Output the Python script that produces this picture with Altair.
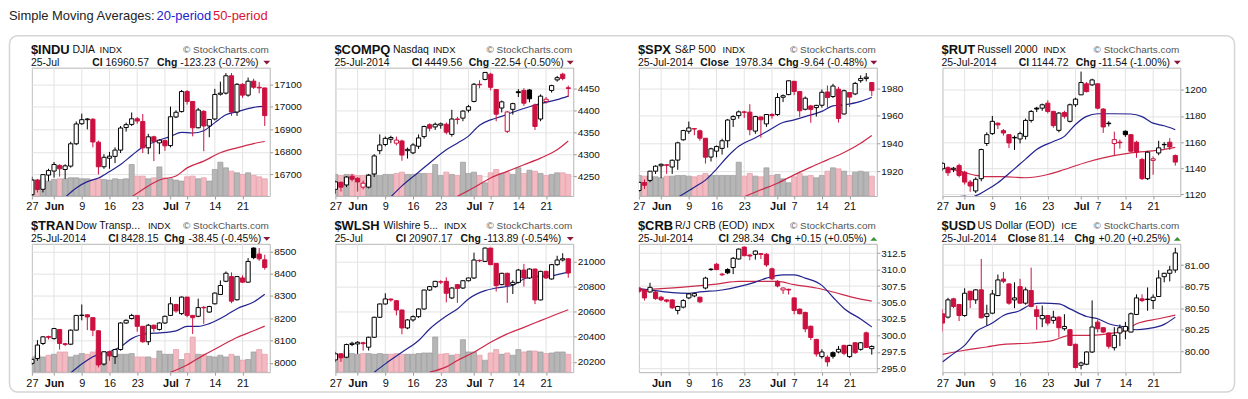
import altair as alt
import pandas as pd

FONT = "Liberation Sans, Arial, Helvetica, sans-serif"

# ---------------- shared axis data (trading-day index: 0 = 27 May 2014, 42 = 25 Jul 2014)
TICK_DAYS = [0, 4, 9, 14, 19, 25, 28, 33, 38]
TICK_TEXT = ["27", "Jun", "9", "16", "23", "Jul", "7", "14", "21"]
MONTH_DAYS = [4, 25]
GRID_DAYS = [0, 4, 9, 14, 19, 24, 28, 33, 38]

# ---------------- $INDU
INDU_OPEN = [16610,16675,16634,16697,16715,16740,16722,16737,16836,16925,16943,16945,16843,16734,16772,16780,16808,16908,16922,16947,16935,16818,16867,16840,16850,16828,16955,16979,17068,17024,16907,16980,16915,16946,17056,17061,17138,16977,17100,17052,17114,17087,17084]
INDU_HIGH = [16690,16680,16700,16725,16755,16745,16745,16845,16935,16970,16950,16950,16850,16790,16800,16820,16915,16930,16975,16955,16968,16880,16872,16855,16855,17001,16985,17075,17075,17025,16995,16985,16945,17080,17112,17150,17150,17105,17105,17130,17125,17110,17085]
INDU_LOW = [16600,16620,16620,16670,16686,16690,16680,16730,16830,16920,16900,16820,16700,16725,16725,16750,16795,16890,16915,16925,16795,16790,16759,16790,16805,16820,16950,16975,17010,16869,16905,16803,16865,16940,17050,17055,16960,16960,17040,17045,17080,17060,16915]
INDU_CLOSE = [16675,16633,16699,16717,16744,16725,16738,16836,16924,16943,16946,16844,16734,16776,16781,16808,16906,16921,16947,16937,16818,16867,16846,16852,16827,16956,16976,17068,17024,16907,16986,16915,16944,17055,17061,17138,16977,17100,17052,17114,17087,17084,16961]
INDU_VOLUME = [16.7,16.0,17.3,15.0,16.7,17.3,17.3,18.3,18.3,17.3,17.3,16.7,17.3,16.7,16.0,17.3,16.7,17.3,31.7,20.0,20.0,17.3,18.3,29.3,18.3,17.3,16.0,15.0,19.3,20.0,17.3,18.3,15.0,26.7,34.0,28.3,25.0,23.3,21.7,23.3,20.7,19.3,17.3]
INDU_SMA20_DAY = [6,8,10,12,14,16,18,20,22,25,27,29,31,33,35,37,40,42]
INDU_SMA20 = [16598,16640,16668,16684,16713,16744,16784,16822,16843,16869,16887,16884,16894,16930,16965,16978,16998,17002]
INDU_SMA50_DAY = [18,21,23,26,28,31,34,37,40,42]
INDU_SMA50 = [16600,16649,16675,16693,16729,16759,16796,16818,16837,16846]

# ---------------- $COMPQ
COMPQ_OPEN = [4220,4236,4230,4250,4245,4225,4225,4255,4308,4322,4334,4325,4330,4308,4303,4318,4340,4367,4362,4366,4368,4345,4380,4382,4400,4420,4459,4470,4482,4447,4405,4352,4402,4442,4445,4446,4412,4380,4420,4445,4469,4482,4451]
COMPQ_HIGH = [4240,4238,4250,4255,4248,4240,4255,4300,4345,4340,4342,4340,4333,4315,4325,4345,4365,4370,4372,4372,4372,4401,4385,4400,4412,4462,4468,4487,4485,4448,4422,4398,4417,4448,4450,4448,4415,4436,4430,4458,4478,4485,4456]
COMPQ_LOW = [4210,4215,4225,4238,4215,4220,4222,4248,4300,4318,4325,4320,4285,4290,4300,4312,4335,4352,4355,4358,4345,4340,4368,4375,4395,4418,4450,4468,4445,4375,4395,4348,4390,4430,4410,4418,4355,4375,4415,4440,4465,4468,4430]
COMPQ_CLOSE = [4237,4225,4248,4243,4237,4234,4252,4296,4321,4336,4338,4332,4298,4311,4321,4337,4363,4359,4368,4369,4350,4380,4379,4398,4408,4459,4457.7,4486,4452,4391,4419,4396,4415,4440,4416,4426,4363,4432,4425,4456,4474,4472,4449.6]
COMPQ_VOLUME = [21.7,20.7,21.7,21.7,20.7,20.7,21.7,21.7,20.7,21.7,21.7,22.7,24.0,21.7,21.7,22.7,22.7,22.7,31.7,20.7,24.0,21.7,20.7,34.0,22.7,24.0,20.7,13.3,23.3,26.7,22.7,24.0,21.7,28.3,22.7,26.0,25.0,22.7,20.7,21.7,23.3,23.3,21.7]
COMPQ_SMA20_DAY = [10,12,15,17,20,22,24,26,28,30,33,35,37,40,42]
COMPQ_SMA20 = [4203,4228,4259,4280,4310,4325,4341,4366,4378,4386,4400,4408,4415,4424,4432]
COMPQ_SMA50_DAY = [22,25,28,31,34,37,40,42]
COMPQ_SMA50 = [4204,4224,4246,4261,4276,4291,4310,4330]

# ---------------- $SPX
SPX_OPEN = [1906,1911.8,1913.3,1920,1923.9,1924.6,1923,1928,1942.7,1948.9,1950.5,1949.2,1943.8,1930.2,1934.5,1936.5,1942,1957.5,1960.2,1962.9,1962.7,1949,1959.2,1954.2,1961,1961,1973.5,1975.4,1985,1977.6,1964.8,1967.2,1966,1967.7,1977.3,1974,1979.3,1961.4,1976.9,1975.9,1985.5,1987,1984.1]
SPX_HIGH = [1912.3,1914,1920.2,1924.2,1925.5,1925,1928.4,1941.3,1949.9,1955.9,1950.9,1950,1944,1937,1938.6,1943.5,1957.8,1960.5,1963.9,1963.7,1968.5,1960,1959.5,1961,1962,1976.5,1975.5,1985.6,1985.3,1978,1974,1968,1968,1979.1,1982,1983.2,1981,1979,1977,1984.6,1989.3,1991,1984.5]
SPX_LOW = [1905,1907,1912,1918,1915,1918,1918,1921,1942,1947,1946,1942,1925.5,1927,1930,1932,1937,1952,1958,1958.5,1946,1947,1944.2,1952,1958,1960,1970,1975,1975,1959.3,1964,1955,1959.5,1966,1965.9,1973,1955.2,1961,1966.5,1975,1984,1985,1974.5]
SPX_CLOSE = [1911.9,1909.8,1920.0,1923.6,1925.0,1924.2,1927.9,1940.5,1949.4,1951.3,1950.8,1943.9,1930.1,1936.2,1937.8,1942.0,1957.0,1959.5,1962.9,1962.6,1950.0,1959.5,1957.2,1961.0,1960.2,1973.3,1974.6,1985.4,1977.7,1963.7,1972.8,1964.7,1967.6,1977.1,1973.3,1981.6,1958.1,1978.2,1973.6,1983.5,1987.0,1988.0,1978.3]
SPX_VOLUME = [20.7,20,20,19.3,18.3,20,20,20.7,20.7,20,19.3,20.7,22.7,20.7,20.7,20.7,20.7,20.7,34,20,22.7,20,19.3,28.3,20.7,21.7,17.3,13.3,19.3,22.7,20,20.7,18.3,20.7,25,28.3,27.3,25,20.7,24,25,24,20]
SPX_SMA20_DAY = [7,10,12,14,16,18,21,23,26,28,30,33,35,37,40,42]
SPX_SMA20 = [1901,1908.4,1913.5,1921.5,1930.6,1938,1944.2,1948.5,1955.2,1957.1,1959.5,1963.3,1967.2,1968,1970.5,1973.5]
SPX_SMA50_DAY = [19,22,25,28,31,34,37,40,42]
SPX_SMA50 = [1901.5,1906.5,1911.3,1917.3,1922.9,1928.2,1933.5,1940.2,1945.8]

# ---------------- $RUT
RUT_OPEN = [1139.6,1140.4,1139.2,1142,1137,1129.4,1122.6,1132,1158.9,1166.5,1174.5,1168.8,1165.7,1163.6,1162.4,1164.4,1176.6,1186,1186,1189.8,1183.5,1169,1182.7,1175.9,1188.6,1196.2,1204.6,1203.8,1204.6,1185.3,1174.5,1158.9,1160,1168.3,1165.7,1159.9,1146.7,1132,1146,1151.7,1158,1159.9,1149.7]
RUT_HIGH = [1144.7,1141.5,1141,1143.5,1138,1131,1133,1155,1167.5,1180,1175,1170,1166,1165,1168,1178,1184.5,1187,1189.5,1192,1184,1183,1184,1189.5,1194,1214,1206,1208.5,1205,1186,1176,1168,1162,1169,1166,1161,1148,1153,1149,1161,1160,1163,1150.5]
RUT_LOW = [1138,1134,1137,1133,1127.5,1122,1121,1130,1157,1165.5,1170,1165,1155.5,1154,1159,1162,1175,1183,1184,1182,1171,1167.5,1178,1175,1187,1196,1198,1203,1185,1167,1172,1150,1155,1164,1152,1148,1131,1131,1135,1150,1155,1154,1142]
RUT_CLOSE = [1143.7,1136.5,1140,1134.5,1129.4,1126.4,1131.5,1154.3,1165.7,1175.9,1173.2,1167,1159.4,1163.2,1166.5,1176.6,1183.5,1185.3,1188.6,1183.5,1172.6,1182.2,1179.7,1188.6,1192.9,1205.6,1198.7,1207.6,1186,1171.6,1174.1,1161.9,1159.5,1165.7,1153,1152.3,1132,1152.3,1147.2,1155.6,1158.2,1156.3,1144.7]
RUT_SMA20_DAY = [0,2,4,5,8,10,12,15,17,20,22,24,26,28,31,34,36,38,40,42]
RUT_SMA20 = [1116,1117.5,1118.7,1117.8,1123.5,1128.9,1136,1147,1154.3,1160.5,1164.4,1173.5,1179.7,1181.7,1181.7,1181.5,1179.5,1174.5,1172.5,1169.5]
RUT_SMA50_DAY = [0,3,6,8,11,15,19,22,26,29,34,39,42]
RUT_SMA50 = [1140.3,1137.8,1134.5,1133.5,1133.5,1132.7,1135.2,1139,1144.6,1147.9,1151.7,1153.8,1156]

# ---------------- $TRAN
TRAN_OPEN = [7998,8020,8087,8118,8109,8150,8086,8084,8147,8213,8216,8203,8144,7995,8050,8028,8060,8179,8199,8213,8164,8095,8169,8150,8179,8213,8262,8221,8295,8213,8209,8249,8228,8265,8307,8366,8387,8283,8381,8362,8515,8488,8462]
TRAN_HIGH = [8020,8102,8120,8122,8157,8152,8090,8150,8215,8262,8218,8205,8146,8052,8055,8062,8182,8195,8220,8214,8166,8175,8172,8182,8212,8295,8265,8298,8296,8215,8288,8255,8256,8316,8370,8410,8406,8390,8393,8470,8518,8515,8485]
TRAN_LOW = [7990,8010,8080,8105,8105,8060,8075,8080,8145,8191,8147,8120,7980,7988,8010,7995,8055,8175,8195,8140,8090,8080,8140,8145,8175,8210,8225,8215,8205,8130,8205,8175,8225,8262,8305,8362,8268,8280,8358,8360,8465,8458,8418]
TRAN_CLOSE = [8016,8080,8117,8115,8154,8087,8083,8147,8213,8214,8206,8147,7991,8050,8031,8060,8179,8191,8213,8164,8095,8169,8154,8179,8209,8265,8233,8295,8213,8203,8248,8247,8253,8313,8347,8402,8277,8387,8362,8455,8472,8466.6,8428.2]
TRAN_VOLUME = [15.3,17,15.3,17,18,20.3,20.3,15.3,17,18.7,18,20.3,22.7,20.3,18,17,18,18,18.7,15.3,15.3,15.3,13.7,21.3,18,18,22.7,12.7,18.7,35.3,18,18,16,15.3,17,15.3,18,16,12,12.7,20.3,22.7,18]
TRAN_SMA20_DAY = [7,9,11,14,16,18,21,23,26,28,30,32,35,37,40,42]
TRAN_SMA20 = [7955,7995,8028,8050,8072,8109,8132,8135,8144,8164,8164,8176,8213,8243,8273,8308]
TRAN_SMA50_DAY = [25,28,31,34,37,40,42]
TRAN_SMA50 = [7958,7991,8035,8075,8114,8144,8165]

# ---------------- $WLSH
WLSH_OPEN = [20216,20264,20237,20338,20343,20352,20317,20396,20555,20661,20700,20687,20613,20470,20534,20560,20621,20772,20799,20838,20841,20709,20815,20788,20846,20868,21008,21000,21106,20984,20815,20905,20815,20833,20931,20868,20939,20693,20921,20860,20974,21011,21021]
WLSH_HIGH = [20280,20268,20345,20360,20365,20360,20400,20560,20665,20746,20705,20690,20615,20540,20570,20625,20775,20805,20845,20850,20873,20795,20820,20850,20870,21070,21015,21110,21108,20986,20910,20910,20850,20940,20980,20945,20942,20925,20925,20980,21045,21065,21025]
WLSH_LOW = [20200,20200,20230,20325,20264,20290,20290,20390,20550,20655,20680,20570,20420,20460,20520,20550,20615,20765,20790,20820,20674,20700,20670,20780,20840,20860,20995,20995,20970,20760,20810,20670,20740,20825,20800,20860,20660,20690,20860,20855,20965,21000,20870]
WLSH_CLOSE = [20264,20232,20338,20348,20356,20345,20396,20555,20661,20701,20693,20613,20470,20534,20560,20621,20772,20799,20841,20835,20746,20788,20785,20846,20868,21011,21005,21106,20974,20807,20905,20807,20833,20931,20868,20939,20693,20921,20868,20974,21011,21021,20907.2]
WLSH_VOLUME = [18.7,17,22,18.7,18,18.7,18.7,18,18.7,18,18,18.7,18,18,18,18.7,19.3,19.3,35.3,18,18.7,17,18,32.7,20.3,20.3,17,12,19.3,22.7,18,19.3,17,22.7,20.3,21.3,21.3,20.3,18.7,19.3,20.3,20.3,18]
WLSH_SMA20_DAY = [7,9,12,15,17,20,22,24,27,29,32,34,36,39,41,42]
WLSH_SMA20 = [20118,20184,20277,20370,20462,20565,20621,20701,20767,20788,20810,20860,20878,20886,20905,20913]
WLSH_SMA50_DAY = [17,20,22,25,28,31,34,37,40,42]
WLSH_SMA50 = [20118,20160,20211,20277,20356,20423,20475,20528,20581,20615]

# ---------------- $CRB
CRB_OPEN = [307.2,306.9,306.6,306.6,305.8,305.4,305.4,303.8,304.3,305.7,306.0,305.8,307.2,310.0,310.8,309.3,310.0,310.3,311.6,313.4,312.2,312.3,312.4,312.3,310.1,308.2,306.9,307.0,305.7,304.0,303.5,301.4,299.4,296.8,296.7,297.4,297.5,298.5,296.8,298.9,297.9,300.4,298.0]
CRB_HIGH = [307.4,307.0,308.0,306.8,306.0,305.5,305.5,304.5,305.5,306.4,306.5,305.9,308.9,310.2,311.0,309.5,310.2,311.9,313.2,313.5,312.3,312.9,312.5,312.5,310.3,308.4,307.3,307.1,305.8,304.1,303.6,301.5,299.5,297.9,297.0,297.6,298.4,298.6,298.6,299.0,299.0,300.6,298.5]
CRB_LOW = [306.4,305.3,306.5,305.4,305.2,305.0,304.0,303.2,304.1,305.5,305.8,304.9,307.0,309.8,309.9,309.0,309.3,309.3,311.5,312.0,311.4,311.5,311.6,310.4,308.4,307.3,306.3,306.2,303.2,303.2,300.5,299.3,296.8,296.5,295.3,296.5,297.3,297.0,296.6,297.2,297.7,298.1,297.1]
CRB_CLOSE = [306.7,305.7,307.3,305.6,305.4,305.2,304.2,304.4,305.3,306.3,306.35,305.1,308.7,310.05,310.0,309.2,309.5,311.7,313.1,312.1,312.05,312.8,312.3,310.7,308.6,307.5,307.2,306.9,303.8,303.3,301.0,299.7,297.2,297.5,296.0,296.85,297.9,297.3,298.5,297.4,298.9,298.19,298.34]
CRB_SMA20_DAY = [0,3,6,9,11,15,18,21,23,26,28,30,33,35,37,40,42]
CRB_SMA20 = [307.1,306.8,306.5,306.4,306.6,306.9,307.4,308.1,308.7,309.2,309.2,308.7,307.6,305.8,304.1,302.5,301.3]
CRB_SMA50_DAY = [0,4,9,14,18,22,25,28,32,35,39,42]
CRB_SMA50 = [306.9,307.1,307.4,307.8,308.2,308.2,308.2,307.7,307.2,306.6,305.7,305.2]

# ---------------- $USD
USD_OPEN = [80.435,80.396,80.608,80.542,80.415,80.696,80.596,80.712,80.404,80.442,80.646,80.838,80.781,80.596,80.75,80.558,80.704,80.481,80.377,80.415,80.358,80.396,80.262,80.25,80.081,79.838,79.85,79.992,80.338,80.273,80.212,80.042,80.212,80.235,80.223,80.427,80.608,80.60,80.588,80.635,80.865,80.904,80.942]
USD_HIGH = [80.49,80.62,80.62,80.55,80.73,80.70,80.72,81.07,80.54,80.71,80.89,80.92,80.79,80.80,80.84,80.74,80.97,80.53,80.53,80.42,80.47,80.41,80.43,80.26,80.09,79.88,80.00,80.59,80.37,80.28,80.22,80.28,80.31,80.34,80.45,80.66,80.66,80.74,80.66,80.94,80.91,80.99,81.20]
USD_LOW = [80.23,80.38,80.50,80.35,80.40,80.50,80.55,80.38,80.30,80.43,80.64,80.79,80.54,80.50,80.55,80.54,80.51,80.25,80.28,80.30,80.32,80.16,80.24,80.06,79.80,79.79,79.84,79.98,80.22,80.21,80.03,80.01,80.06,80.14,80.22,80.42,80.57,80.47,80.49,80.63,80.80,80.81,80.91]
USD_CLOSE = [80.327,80.596,80.519,80.415,80.673,80.596,80.712,80.388,80.435,80.665,80.827,80.812,80.558,80.619,80.558,80.712,80.519,80.404,80.415,80.327,80.396,80.273,80.288,80.069,79.812,79.865,79.992,80.281,80.262,80.223,80.058,80.185,80.273,80.288,80.435,80.619,80.588,80.605,80.627,80.85,80.904,80.942,81.14]
USD_SMA20_DAY = [0,2,4,6,9,11,14,16,18,21,23,26,28,30,33,35,37,40,42]
USD_SMA20 = [79.877,79.973,80.069,80.223,80.327,80.415,80.473,80.542,80.558,80.55,80.492,80.404,80.377,80.319,80.281,80.25,80.262,80.312,80.396]
USD_SMA50_DAY = [0,4,8,11,16,20,23,27,30,33,35,39,42]
USD_SMA50 = [79.965,80.012,80.05,80.081,80.096,80.127,80.185,80.185,80.204,80.242,80.319,80.377,80.42]

# ---------------- panel descriptions
PANELS = [
    dict(o=INDU_OPEN, h=INDU_HIGH, l=INDU_LOW, c=INDU_CLOSE, v=INDU_VOLUME,
         s20d=INDU_SMA20_DAY, s20=INDU_SMA20, s50d=INDU_SMA50_DAY, s50=INDU_SMA50,
         domain=[16604, 17174], ticks=[16700, 16800, 16900, 17000, 17100], fmt="d", first=True,
         sym="$INDU", name="DJIA", name_x=40.7, exch="INDX", exch_x=68, date="25-Jul",
         clbl="Cl", clbl_x=60.7, cval="16960.57", cval_x=74, chg_x=125.7, chg="-123.23 (-0.72%)", chgv_x=149, up=False),
    dict(o=COMPQ_OPEN, h=COMPQ_HIGH, l=COMPQ_LOW, c=COMPQ_CLOSE, v=COMPQ_VOLUME,
         s20d=COMPQ_SMA20_DAY, s20=COMPQ_SMA20, s50d=COMPQ_SMA50_DAY, s50=COMPQ_SMA50,
         domain=[4204.8, 4496.8], ticks=[4250, 4300, 4350, 4400, 4450], fmt="d", first=True,
         sym="$COMPQ", name="Nasdaq", name_x=57.8, exch="INDX", exch_x=98, date="25-Jul-2014",
         clbl="Cl", clbl_x=76.7, cval="4449.56", cval_x=89.5, chg_x=134, chg="-22.54 (-0.50%)", chgv_x=156.5, up=False),
    dict(o=SPX_OPEN, h=SPX_HIGH, l=SPX_LOW, c=SPX_CLOSE, v=SPX_VOLUME,
         s20d=SPX_SMA20_DAY, s20=SPX_SMA20, s50d=SPX_SMA50_DAY, s50=SPX_SMA50,
         domain=[1902, 1994.9], ticks=[1920, 1940, 1960, 1980], fmt="d", first=True,
         sym="$SPX", name="S&P 500", name_x=36, exch="INDX", exch_x=84, date="25-Jul-2014",
         clbl="Close", clbl_x=61.7, cval="1978.34", cval_x=96.5, chg_x=140.1, chg="-9.64 (-0.48%)", chgv_x=162.4, up=False),
    dict(o=RUT_OPEN, h=RUT_HIGH, l=RUT_LOW, c=RUT_CLOSE, v=None,
         s20d=RUT_SMA20_DAY, s20=RUT_SMA20, s50d=RUT_SMA50_DAY, s50=RUT_SMA50,
         domain=[1118.7, 1217], ticks=[1120, 1140, 1160, 1180, 1200], fmt="d", first=True,
         sym="$RUT", name="Russell 2000", name_x=35, exch="INDX", exch_x=101.2, date="25-Jul-2014",
         clbl="Cl", clbl_x=76.7, cval="1144.72", cval_x=89.5, chg_x=134, chg="-11.54 (-1.00%)", chgv_x=156.5, up=False),
    dict(o=TRAN_OPEN, h=TRAN_HIGH, l=TRAN_LOW, c=TRAN_CLOSE, v=TRAN_VOLUME,
         s20d=TRAN_SMA20_DAY, s20=TRAN_SMA20, s50d=TRAN_SMA50_DAY, s50=TRAN_SMA50,
         domain=[7958.5, 8534], ticks=[8000, 8100, 8200, 8300, 8400, 8500], fmt="d", first=True,
         sym="$TRAN", name="Dow Transp...", name_x=44, exch="INDX", exch_x=116.6, date="25-Jul-2014",
         clbl="Cl", clbl_x=76.7, cval="8428.15", cval_x=89.5, chg_x=133, chg="-38.45 (-0.45%)", chgv_x=157.5, up=False),
    dict(o=WLSH_OPEN, h=WLSH_HIGH, l=WLSH_LOW, c=WLSH_CLOSE, v=WLSH_VOLUME,
         s20d=WLSH_SMA20_DAY, s20=WLSH_SMA20, s50d=WLSH_SMA50_DAY, s50=WLSH_SMA50,
         domain=[20118, 21140], ticks=[20200, 20400, 20600, 20800, 21000], fmt="d", first=True,
         sym="$WLSH", name="Wilshire 5...", name_x=48.3, exch="INDX", exch_x=109, date="25-Jul",
         clbl="Cl", clbl_x=60.7, cval="20907.17", cval_x=74, chg_x=125.7, chg="-113.89 (-0.54%)", chgv_x=149, up=False),
    dict(o=CRB_OPEN, h=CRB_HIGH, l=CRB_LOW, c=CRB_CLOSE, v=None,
         s20d=CRB_SMA20_DAY, s20=CRB_SMA20, s50d=CRB_SMA50_DAY, s50=CRB_SMA50,
         domain=[294.44, 313.9], ticks=[295.0, 297.5, 300.0, 302.5, 305.0, 307.5, 310.0, 312.5], fmt=".1f", first=False,
         sym="$CRB", name="R/J CRB (EOD)", name_x=36.3, exch="INDX", exch_x=113.5, date="25-Jul-2014",
         clbl="Cl", clbl_x=79.9, cval="298.34", cval_x=94, chg_x=132.7, chg="+0.15 (+0.05%)", chgv_x=156.7, up=True),
    dict(o=USD_OPEN, h=USD_HIGH, l=USD_LOW, c=USD_CLOSE, v=None,
         s20d=USD_SMA20_DAY, s20=USD_SMA20, s50d=USD_SMA50_DAY, s50=USD_SMA50,
         domain=[79.758, 81.246], ticks=[80.0, 80.25, 80.5, 80.75, 81.0], fmt=".2f", first=True,
         sym="$USD", name="US Dollar (EOD)", name_x=35.3, exch="ICE", exch_x=119.5, date="25-Jul-2014",
         clbl="Close", clbl_x=65.6, cval="81.14", cval_x=96.3, chg_x=132.7, chg="+0.20 (+0.25%)", chgv_x=156.7, up=True),
]

# ---------------- styling
W, H = 239, 129
XMAX = 42.9
RED = "#cc1040"
BLUE_SMA = "#23238f"
RED_SMA = "#cc2a4a"
VOL_UP, VOL_UP_LINE = "#b6b6b6", "#9a9a9a"
VOL_DN, VOL_DN_LINE = "#f3bac2", "#e29ca7"
L1, L2 = -17.5, -4.5
ONE = pd.DataFrame({"k": [0]})


def txt(s, x, y, size, weight="normal", color="#111111", align="left", font=FONT):
    return alt.Chart(ONE).mark_text(
        text=s, align=align, baseline="middle", fontSize=size, fontWeight=weight,
        color=color, font=font
    ).encode(x=alt.value(x), y=alt.value(y))


def triangle(up, x, y):
    shape = "M-1,0.55L1,0.55L0,-0.55Z" if up else "M-1,-0.55L1,-0.55L0,0.55Z"
    color = "#3a8f3a" if up else "#8b1538"
    return alt.Chart(ONE).mark_point(shape=shape, filled=True, size=49, color=color, opacity=1).encode(
        x=alt.value(x), y=alt.value(y))


def x_axis(show_first):
    days = TICK_DAYS if show_first else TICK_DAYS[1:]
    expr = "".join(f"datum.value == {d} ? '{t}' : " for d, t in zip(TICK_DAYS, TICK_TEXT)) + "''"
    bold = " || ".join(f"datum.value == {d}" for d in MONTH_DAYS)
    return alt.Axis(values=days, labelExpr=expr, title=None, grid=False, domain=False,
                    ticks=True, tickSize=3, tickColor="#9a9a9a", labelPadding=2,
                    labelFontSize=11, labelFont=FONT, labelColor="#111111",
                    labelFlush=False, labelOverlap=False,
                    labelFontWeight={"condition": {"test": bold, "value": "bold"}, "value": "normal"})


def build_panel(p, extras=()):
    n = len(p["c"])
    days = list(range(n))
    prev = [p["o"][0]] + list(p["c"][:-1])
    direction = ["up" if c >= pc else "down" for c, pc in zip(p["c"], prev)]
    kind = [d + ("-hollow" if c >= o else "-filled") for d, o, c in zip(direction, p["o"], p["c"])]
    df = pd.DataFrame({"day": days, "open": p["o"], "high": p["h"], "low": p["l"], "close": p["c"],
                       "dir": direction, "kind": kind})
    df["b0"] = df["day"] - 0.38
    df["b1"] = df["day"] + 0.38

    xs = alt.Scale(domain=[0, XMAX], nice=False, zero=False)
    xa = x_axis(p["first"])
    ys = alt.Scale(domain=p["domain"], nice=False, zero=False)
    ya = alt.Axis(orient="right", values=p["ticks"], format=p["fmt"], title=None, grid=True,
                  gridColor="#e3e3e3", domain=False, ticks=True, tickSize=3, tickColor="#9a9a9a",
                  labelPadding=1, labelFontSize=10, labelFont=FONT, labelColor="#111111",
                  labelFlush=False, labelOverlap=False)

    def X(f):
        return alt.X(f, type="quantitative", scale=xs, axis=xa)

    def Y(f):
        return alt.Y(f, type="quantitative", scale=ys, axis=ya)

    stroke_scale = alt.Scale(domain=["up", "down"], range=["#000000", RED])
    fill_scale = alt.Scale(domain=["up-hollow", "up-filled", "down-hollow", "down-filled"],
                           range=["#ffffff", "#000000", "#ffffff", RED])

    grid = alt.Chart(pd.DataFrame({"g": GRID_DAYS})).mark_rule(
        color="#e3e3e3", strokeWidth=1, clip=True).encode(x=X("g"))

    s50 = alt.Chart(pd.DataFrame({"day": p["s50d"], "sma": p["s50"]})).mark_line(
        color=RED_SMA, strokeWidth=1.2, interpolate="monotone", clip=True).encode(x=X("day"), y=Y("sma"))
    s20 = alt.Chart(pd.DataFrame({"day": p["s20d"], "sma": p["s20"]})).mark_line(
        color=BLUE_SMA, strokeWidth=1.2, interpolate="monotone", clip=True).encode(x=X("day"), y=Y("sma"))
    wick = alt.Chart(df).mark_rule(strokeWidth=1, clip=True).encode(
        x=X("day"), y=Y("low"), y2="high",
        stroke=alt.Stroke("dir:N", scale=stroke_scale, legend=None))
    body = alt.Chart(df).mark_rect(strokeWidth=1, clip=True).encode(
        x=X("b0"), x2="b1", y=Y("open"), y2="close",
        fill=alt.Fill("kind:N", scale=fill_scale, legend=None),
        stroke=alt.Stroke("dir:N", scale=stroke_scale, legend=None))
    price = alt.layer(s50, s20, wick, body)

    layers = list(extras) + [grid]
    if p["v"]:
        vdf = pd.DataFrame({"day": days, "vol": p["v"], "dir": direction})
        vdf["v0"] = vdf["day"] - 0.46
        vdf["v1"] = vdf["day"] + 0.46
        vol = alt.Chart(vdf).mark_rect(strokeWidth=0.7, clip=True).encode(
            x=X("v0"), x2="v1",
            y=alt.Y("vol:Q", scale=alt.Scale(domain=[0, H], nice=False, zero=True), axis=None),
            y2=alt.datum(0),
            fill=alt.Fill("dir:N", scale=alt.Scale(domain=["up", "down"], range=[VOL_UP, VOL_DN]), legend=None),
            stroke=alt.Stroke("dir:N", scale=alt.Scale(domain=["up", "down"], range=[VOL_UP_LINE, VOL_DN_LINE]), legend=None))
        layers.append(vol)
    layers.append(price)

    layers += [
        txt(p["sym"], -1, L1, 13, "bold"),
        txt(p["name"], p["name_x"], L1, 10.5),
        txt(p["exch"], p["exch_x"], L1, 9.5),
        txt("\u00a9 StockCharts.com", 238, L1, 10, color="#555555", align="right"),
        txt(p["date"], -1, L2, 10.5),
        txt(p["clbl"], p["clbl_x"], L2, 10.5, "bold"),
        txt(p["cval"], p["cval_x"], L2, 10.5),
        txt("Chg", p["chg_x"], L2, 10.5, "bold"),
        txt(p["chg"], p["chgv_x"], L2, 10.5),
        triangle(p["up"], 236, L2 - 0.5),
    ]
    return alt.layer(*layers).resolve_scale(
        y="independent", fill="independent", stroke="independent").properties(width=W, height=H)


# page frame and page title (attached to the first panel, positioned relative to it)
frame = alt.Chart(ONE).mark_rect(cornerRadius=8, fill="#ffffff", fillOpacity=0,
                                 stroke="#d5d5d5", strokeWidth=1.5).encode(
    x=alt.value(-22.5), x2=alt.value(1208.5), y=alt.value(-32), y2=alt.value(326))
page_title = [
    txt("Simple Moving Averages:", -23, -52, 13, color="#222222"),
    txt("20-period", 125.3, -52, 13, color="#2222cc"),
    txt("50-period", 182, -52, 13, color="#dd1133"),
]

panels = []
for i, p in enumerate(PANELS):
    extras = [frame] + page_title if i == 0 else []
    panels.append(build_panel(p, extras))

chart = alt.concat(*panels, columns=4, spacing={"row": 48, "column": 66}, bounds="flush").properties(
    padding={"left": 0, "top": 0, "right": 4, "bottom": 4}, background="#ffffff"
).configure_view(stroke="#b4b4b4", strokeWidth=1)

chart.save("out.html", embed_options={"renderer": "svg", "actions": False})
